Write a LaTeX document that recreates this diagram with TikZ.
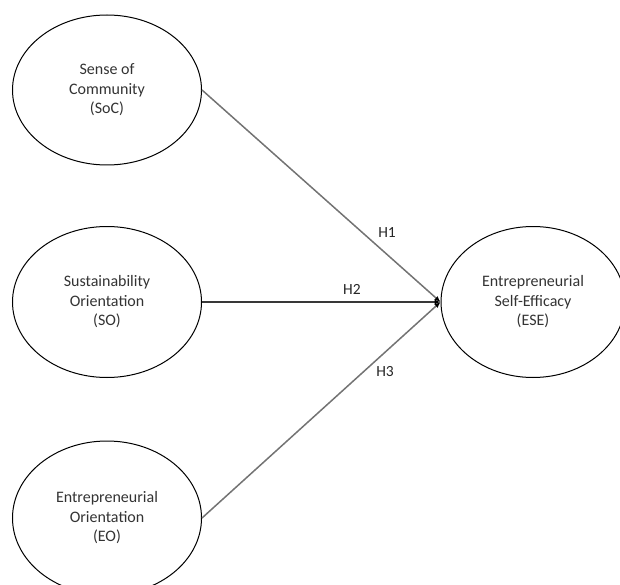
\documentclass[tikz,border=0pt]{standalone}
\usepackage{fontspec}
\setmainfont{Carlito}
\usetikzlibrary{shapes.geometric,arrows.meta}
\begin{document}
\begin{tikzpicture}[x=1pt,y=-1pt,
  construct/.style={draw=black,line width=1pt,ellipse,inner sep=0pt,align=center,
    font=\fontsize{16}{19.5}\selectfont,text=black!80},
  path/.style={line width=1.5pt,draw=black!55,-{Latex[length=6pt,width=5pt,color=black]}},
  hlabel/.style={font=\fontsize{15.5}{18}\selectfont,text=black!85,inner sep=0pt}]
\useasboundingbox (0,0) rectangle (620,585);
\node[construct,minimum width=189pt,minimum height=150pt] (soc) at (107,90) {Sense of\\Community\\(SoC)};
\node[construct,minimum width=189pt,minimum height=151pt] (so) at (107,302) {Sustainability\\Orientation\\(SO)};
\node[construct,minimum width=189pt,minimum height=154pt] (eo) at (107,518) {Entrepreneurial\\Orientation\\(EO)};
\node[construct,minimum width=184pt,minimum height=151pt] (ese) at (533,302) {Entrepreneurial\\Self-Efficacy\\(ESE)};
\draw[path] (soc.east) -- (ese.west);
\draw[path,draw=black!78,line width=1.1pt] (so.east) -- (ese.west);
\draw[path] (eo.east) -- (ese.west);
\node[hlabel] (h1) at (387,233) {H1};
\node[hlabel] (h2) at (352,289) {H2};
\node[hlabel] (h3) at (385,372) {H3};
\end{tikzpicture}
\end{document}
